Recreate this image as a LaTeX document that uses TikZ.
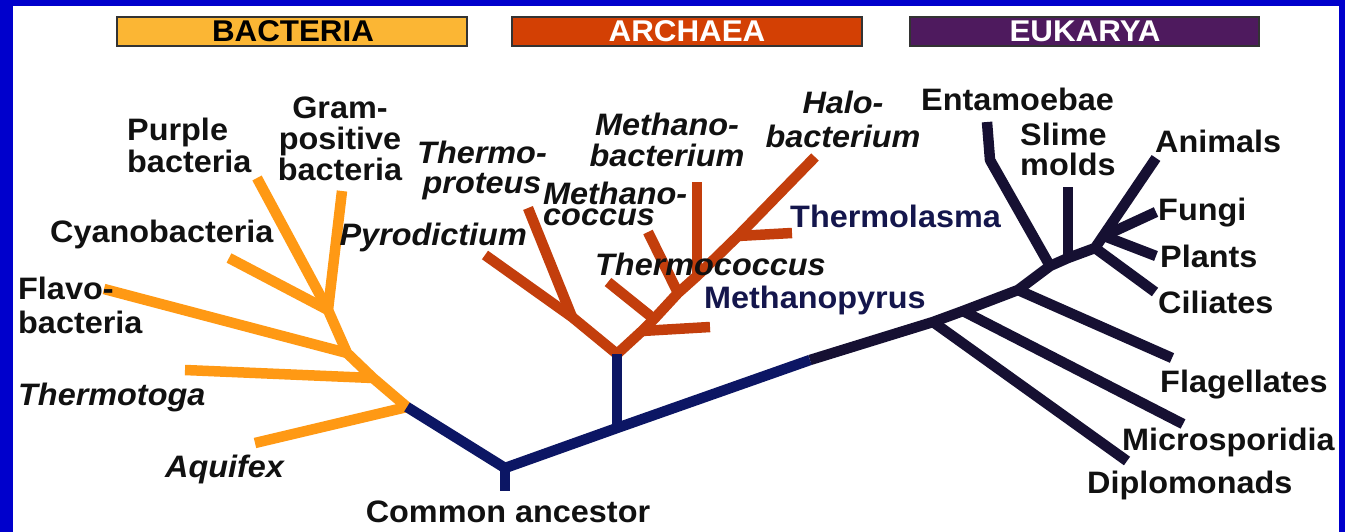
\documentclass[tikz,border=0pt]{standalone}
\usepackage{fontspec}
\setmainfont{Liberation Sans}[FakeStretch=1.045]
\definecolor{frameblue}{RGB}{0,0,204}
\definecolor{bactline}{RGB}{255,153,20}
\definecolor{archline}{RGB}{195,62,12}
\definecolor{rootline}{RGB}{12,22,100}
\definecolor{eukline}{RGB}{22,16,50}
\definecolor{bactfill}{RGB}{251,182,52}
\definecolor{archfill}{RGB}{211,64,4}
\definecolor{eukfill}{RGB}{78,26,94}
\definecolor{navytext}{RGB}{20,22,76}
\definecolor{labeltext}{RGB}{17,17,17}
\tikzset{
  branch/.style={line width=10.5pt, line cap=butt, line join=round},
  bact/.style={branch, draw=bactline},
  arch/.style={branch, draw=archline},
  root/.style={branch, draw=rootline},
  euk/.style={branch, draw=eukline},
  banner/.style={draw=black!80, line width=1.5pt},
  bannertext/.style={inner sep=0pt, anchor=base, font=\fontsize{30}{30}\selectfont\bfseries},
  lbl/.style={inner sep=0pt, text=labeltext, font=\fontsize{31}{32}\selectfont\bfseries},
  ilbl/.style={inner sep=0pt, text=labeltext, font=\fontsize{31}{32}\selectfont\bfseries\itshape},
  nlbl/.style={inner sep=0pt, text=navytext, font=\fontsize{31}{32}\selectfont\bfseries},
}
\begin{document}
\begin{tikzpicture}[x=1pt,y=-1pt]
\useasboundingbox (0,0) rectangle (1345,532);
\fill[frameblue] (0,0) rectangle (1345,532);
\fill[white] (13,6) rectangle (1339,532);

% banners
\filldraw[banner, fill=bactfill] (117,17) rectangle (467,46);
\filldraw[banner, fill=archfill] (512,17) rectangle (862,46);
\filldraw[banner, fill=eukfill] (910,17) rectangle (1259,46);
\node[bannertext, text=black] (tbact) at (293,42) {BACTERIA};
\node[bannertext, text=white] (tarch) at (687,42) {ARCHAEA};
\node[bannertext, text=white] (teuk) at (1085,42) {EUKARYA};

% ---- coordinates: universal root
\coordinate (anc) at (505,468);
\coordinate (ancstub) at (505,491);
\coordinate (bj0) at (407,407);
\coordinate (aj) at (617,428);
\coordinate (ej) at (810,360);

% bacteria
\coordinate (bj1) at (373,378);
\coordinate (bj2) at (347,353);
\coordinate (bj3) at (328,310);
\coordinate (eAquifex) at (255,443);
\coordinate (eThermotoga) at (185,370);
\coordinate (eFlavo) at (104,289);
\coordinate (eCyano) at (229,258);
\coordinate (ePurple) at (257,178);
\coordinate (eGram) at (342,191);

% archaea
\coordinate (ar0) at (617,354);
\coordinate (arL) at (572,317);
\coordinate (ePyro) at (485,255);
\coordinate (eTproteus) at (528,208);
\coordinate (rtA) at (642,331);
\coordinate (rtB) at (654,319);
\coordinate (rtC) at (678,293);
\coordinate (rtD) at (697,276);
\coordinate (rtE) at (738,236);
\coordinate (eHalo) at (815,157);
\coordinate (eMpyrus) at (710,327);
\coordinate (eTcoccus) at (608,282);
\coordinate (eMcoccus) at (648,232);
\coordinate (eMbact) at (697,182);
\coordinate (eTlasma) at (792,233);

% eukarya
\coordinate (ek1) at (933,322);
\coordinate (ek2) at (963,311);
\coordinate (ek3) at (1018,290);
\coordinate (ek4) at (1050,266);
\coordinate (ek5) at (1068,258);
\coordinate (ek6) at (1095,248);
\coordinate (ek7) at (1104,236);
\coordinate (eDiplo) at (1127,461);
\coordinate (eMicro) at (1183,424);
\coordinate (eFlag) at (1172,358);
\coordinate (eEntBend) at (990,160);
\coordinate (eEnt) at (987,122);
\coordinate (eSlime) at (1068,187);
\coordinate (eAnimals) at (1156,158);
\coordinate (eFungi) at (1156,212);
\coordinate (ePlants) at (1156,256);
\coordinate (eCiliates) at (1155,292);

% ---- branches
\draw[bact] (bj0) -- (eAquifex);
\draw[bact] (bj1) -- (eThermotoga);
\draw[bact] (bj2) -- (eFlavo);
\draw[bact] (bj3) -- (eCyano);
\draw[bact] (bj3) -- (ePurple);
\draw[bact] (bj3) -- (eGram);
\draw[bact] (bj0) -- (bj1) -- (bj2) -- (bj3);

\draw[arch] (ar0) -- (arL) -- (ePyro);
\draw[arch] (arL) -- (eTproteus);
\draw[arch] (ar0) -- (rtA) -- (rtB) -- (rtC) -- (rtD) -- (rtE) -- (eHalo);
\draw[arch] (rtA) -- (eMpyrus);
\draw[arch] (rtB) -- (eTcoccus);
\draw[arch] (rtC) -- (eMcoccus);
\draw[arch] (rtD) -- (eMbact);
\draw[arch] (rtE) -- (eTlasma);

\draw[euk] (ek1) -- (eDiplo);
\draw[euk] (ek2) -- (eMicro);
\draw[euk] (ek3) -- (eFlag);
\draw[euk] (ek4) -- (eEntBend) -- (eEnt);
\draw[euk] (ek5) -- (eSlime);
\draw[euk] (ek6) -- (eCiliates);
\draw[euk] (ek7) -- (eFungi);
\draw[euk] (ek7) -- (ePlants);
\draw[euk] (ej) -- (ek1) -- (ek2) -- (ek3) -- (ek4) -- (ek5) -- (ek6) -- (eAnimals);

\draw[root] (bj0) -- (anc) -- (aj) -- (ej);
\draw[root] (anc) -- (ancstub);
\draw[root] (aj) -- (ar0);

% ---- labels
\node[lbl, align=left, anchor=north west, font=\fontsize{31}{32}\selectfont\bfseries] (lPurple) at (127,118) {Purple\\bacteria};
\node[lbl, align=center, anchor=north, font=\fontsize{31}{31}\selectfont\bfseries] (lGram) at (340,97) {Gram-\\positive\\bacteria};
\node[lbl, anchor=base west] (lCyano) at (50,242) {Cyanobacteria};
\node[lbl, align=left, anchor=north west, font=\fontsize{31}{34}\selectfont\bfseries] (lFlavo) at (18,277) {Flavo-\\bacteria};
\node[ilbl, anchor=base west] (lThermotoga) at (18,405) {Thermotoga};
\node[ilbl, anchor=base west] (lAquifex) at (165,477) {Aquifex};
\node[lbl, anchor=base] (lAnc) at (508,522) {Common ancestor};

\node[ilbl, align=center, anchor=north, font=\fontsize{31}{30}\selectfont\bfseries\itshape] (lTproteus) at (482,141) {Thermo-\\proteus};
\node[ilbl, anchor=base east] (lPyro) at (527,245) {Pyrodictium};
\node[ilbl, align=center, anchor=north, font=\fontsize{31}{31}\selectfont\bfseries\itshape] (lMbact) at (667,113) {Methano-\\bacterium};
\node[ilbl, align=left, anchor=north west, font=\fontsize{31}{21}\selectfont\bfseries\itshape] (lMcoccus) at (543,182) {Methano-\\coccus};
\node[ilbl, align=center, anchor=north, font=\fontsize{31}{34}\selectfont\bfseries\itshape] (lHalo) at (843,91) {Halo-\\bacterium};
\node[ilbl, anchor=base west] (lTcoccus) at (595,275) {Thermococcus};
\node[nlbl, anchor=base west] (lTlasma) at (790,227) {Thermolasma};
\node[nlbl, anchor=base west] (lMpyrus) at (704,308) {Methanopyrus};

\node[lbl, anchor=base west] (lEnt) at (921,111) {Entamoebae};
\node[lbl, align=left, anchor=north west, font=\fontsize{31}{30}\selectfont\bfseries] (lSlime) at (1020,123) {Slime\\molds};
\node[lbl, anchor=base west] (lAnimals) at (1155,153) {Animals};
\node[lbl, anchor=base west] (lFungi) at (1158,220) {Fungi};
\node[lbl, anchor=base west] (lPlants) at (1160,267) {Plants};
\node[lbl, anchor=base west] (lCiliates) at (1158,313) {Ciliates};
\node[lbl, anchor=base west] (lFlag) at (1160,392) {Flagellates};
\node[lbl, anchor=base west] (lMicro) at (1122,450) {Microsporidia};
\node[lbl, anchor=base west] (lDiplo) at (1087,493) {Diplomonads};
\end{tikzpicture}
\end{document}
